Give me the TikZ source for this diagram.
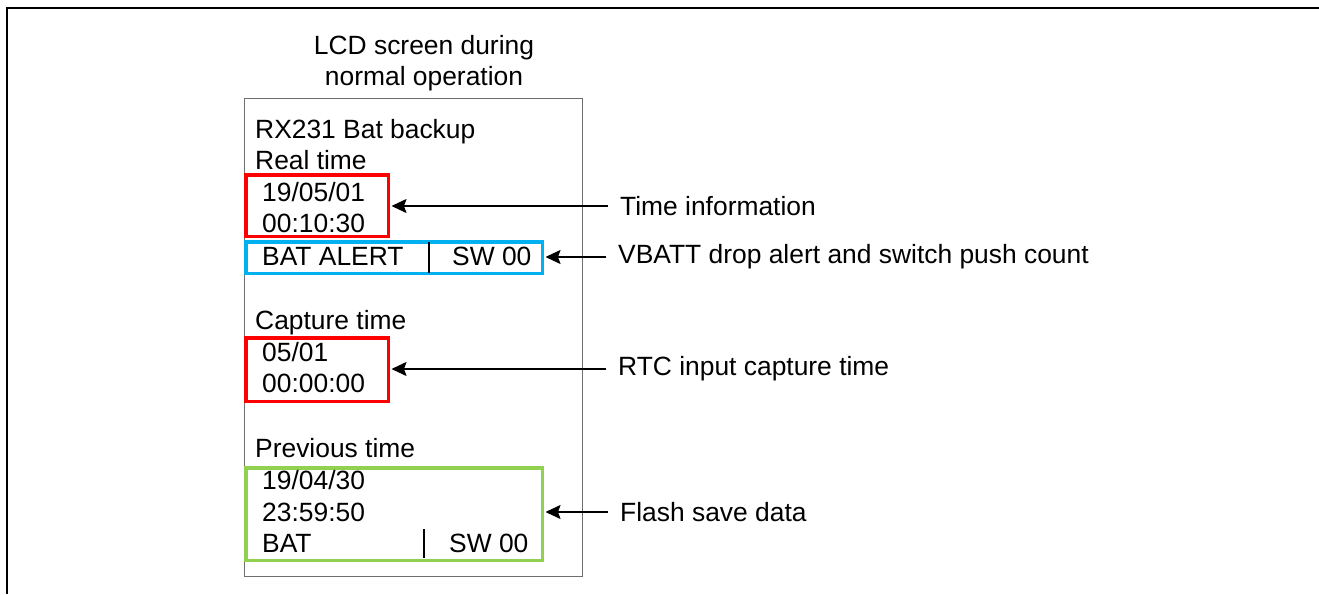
\documentclass[tikz,border=0pt]{standalone}
\usepackage{fontspec}
\setmainfont{Liberation Sans}
\usetikzlibrary{arrows.meta, positioning, calc}
\definecolor{alertred}{RGB}{255,0,0}
\definecolor{alertblue}{RGB}{0,176,240}
\definecolor{savegreen}{RGB}{146,208,80}
\definecolor{lcdgray}{RGB}{110,110,110}

\begin{document}
\begin{tikzpicture}[x=1pt, y=-1pt,
  lcdtxt/.style={anchor=base west, inner sep=0pt, font=\fontsize{26.4}{31}\selectfont},
  markbox/.style={draw=#1, line width=3.5pt, inner sep=0pt},
  note/.style={anchor=west, inner xsep=12pt, inner ysep=0pt, font=\fontsize{26.4}{31}\selectfont},
  pointer/.style={-{Stealth[length=15pt,width=14pt,inset=2.5pt]}, line width=1.6pt, shorten >=1.5pt},
  divider/.style={line width=2pt}]
\useasboundingbox (0,0) rectangle (1319,594);
% Outer frame
\draw[line width=2pt] (1319,8) -- (7,8) -- (7,594);

% LCD screen
\node[anchor=south, align=center, inner sep=0pt, font=\fontsize{26.4}{31}\selectfont] (title) at (424,91.5) {LCD screen during\\normal operation};
\node[draw=lcdgray, line width=1pt, minimum width=338pt, minimum height=478pt, inner sep=0pt] (lcd) at (413.5,337.5) {};

% Marked areas
\node[markbox=alertred, minimum width=142.5pt, minimum height=61.5pt] (realbox) at (317,205.5) {};
\node[markbox=alertblue, minimum width=296.5pt, minimum height=31.5pt] (batbox) at (394,257.5) {};
\node[markbox=alertred, minimum width=142.5pt, minimum height=63.5pt] (capbox) at (317,369.5) {};
\node[markbox=savegreen, minimum width=296.5pt, minimum height=92.5pt] (prevbox) at (394,514) {};
\draw[divider] (429,242) -- (429,273);
\draw[divider] (424,529) -- (424,558);

% Screen text
\node[lcdtxt] (head) at (255,138) {RX231 Bat backup};
\node[lcdtxt] (real) at (255,169) {Real time};
\node[lcdtxt] (rdate) at (262,201) {19/05/01};
\node[lcdtxt] (rtime) at (262,232) {00:10:30};
\node[lcdtxt] (alert) at (262,265) {BAT ALERT};
\node[lcdtxt] (sw1) at (452,265) {SW 00};
\node[lcdtxt] (cap) at (255,329) {Capture time};
\node[lcdtxt] (cdate) at (262,361) {05/01};
\node[lcdtxt] (ctime) at (262,392) {00:00:00};
\node[lcdtxt] (prev) at (255,457) {Previous time};
\node[lcdtxt] (pdate) at (262,489) {19/04/30};
\node[lcdtxt] (ptime) at (262,521) {23:59:50};
\node[lcdtxt] (pbat) at (262,552) {BAT};
\node[lcdtxt] (sw2) at (449,552) {SW 00};

% Notes
\node[note] (n1) at (608,206) {Time information};
\node[note] (n2) at (606,257) {VBATT drop alert and switch push count};
\node[note] (n3) at (606,369) {RTC input capture time};
\node[note] (n4) at (608,512) {Flash save data};
\draw[pointer] (n1.west) -- (n1.west -| realbox.east);
\draw[pointer] (n2.west) -- (n2.west -| batbox.east);
\draw[pointer] (n3.west) -- (n3.west -| capbox.east);
\draw[pointer] (n4.west) -- (n4.west -| prevbox.east);
\end{tikzpicture}
\end{document}
